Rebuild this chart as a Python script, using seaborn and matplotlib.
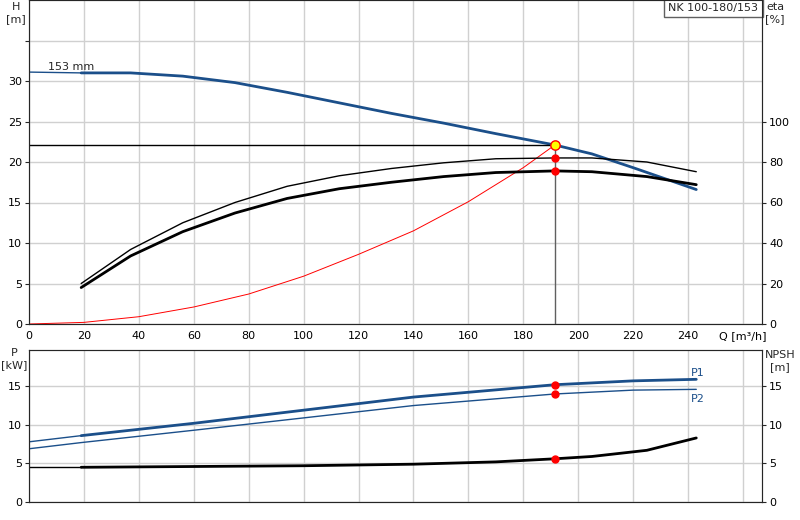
import matplotlib
matplotlib.use("Agg")
import matplotlib.pyplot as plt
import seaborn as sns
import numpy as np

sns.set_style("white")
plt.rcParams['font.family'] = ['DejaVu Sans']

q_head = [0, 19, 37, 56, 75, 94, 113, 132, 151, 170, 191.5, 205, 220, 243]
head = [31.1, 31.0, 31.0, 30.6, 29.8, 28.6, 27.3, 26.0, 24.8, 23.5, 22.1, 21.0, 19.3, 16.6]
q_eta = [19, 37, 56, 75, 94, 113, 132, 151, 170, 191.5, 205, 225, 243]
eta1 = [20, 36.8, 50, 60, 68, 73.2, 76.8, 79.6, 81.6, 82, 82, 80, 75.2]   # %
eta2 = [18, 33.6, 45.6, 54.8, 62, 66.8, 70, 72.8, 74.8, 75.6, 75.2, 72.8, 68.8]
q_sys = [0, 20, 40, 60, 80, 100, 120, 140, 160, 180, 191.5]
sys_h = [0, 0.2, 0.9, 2.1, 3.7, 5.9, 8.6, 11.5, 15.1, 19.3, 22.1]
q_p = [0, 19, 60, 100, 140, 191.5, 220, 243]
p1 = [7.8, 8.6, 10.2, 11.9, 13.6, 15.2, 15.7, 15.9]
p2 = [6.9, 7.7, 9.3, 10.9, 12.5, 14.0, 14.5, 14.6]
q_npsh = [0, 19, 60, 100, 140, 170, 191.5, 205, 225, 243]
npsh = [4.5, 4.5, 4.6, 4.7, 4.9, 5.2, 5.6, 5.9, 6.7, 8.3]
q_dp = 191.5
h_dp = 22.1

blue = "#1b4f8a"
fig = plt.figure(figsize=(8, 5.2), dpi=100)
ax = fig.add_axes([29/800, 1-324/520, (762-29)/800, 324/520])
ax2 = ax.twinx()
bx = fig.add_axes([29/800, 1-502/520, (762-29)/800, 152/520])
bx2 = bx.twinx()

xmax = (762-29)/2.746
for a in (ax, bx):
    a.set_xlim(0, xmax)
    a.set_xticks(np.arange(0, 261, 20))
    a.grid(True, color="#d0d0d0", lw=1)
    for s in a.spines.values():
        s.set_color("#606060")
ax.set_ylim(0, 40)
ax2.set_ylim(0, 160)
ax.set_yticks([0, 5, 10, 15, 20, 25, 30, 35])
ax.set_yticklabels(["0", "5", "10", "15", "20", "25", "30", ""])
ax2.set_yticks([0, 20, 40, 60, 80, 100])
ax.set_xticklabels([str(v) for v in range(0, 241, 20)] + ["Q [m³/h]"])
bx.set_xticklabels([])
bx.set_ylim(0, 19.7)
bx2.set_ylim(0, 19.7)
bx.set_yticks([0, 5, 10, 15])
bx2.set_yticks([0, 5, 10, 15])
for a in (ax, ax2, bx, bx2):
    a.tick_params(labelsize=8, length=3, pad=2, labelcolor="black")

sns.lineplot(x=q_head[1:], y=head[1:], ax=ax, color=blue, lw=2)
sns.lineplot(x=q_head[:2], y=head[:2], ax=ax, color=blue, lw=1)
sns.lineplot(x=q_eta, y=eta1, ax=ax2, color="black", lw=1)
sns.lineplot(x=q_eta, y=eta2, ax=ax2, color="black", lw=2)
sns.lineplot(x=q_sys, y=sys_h, ax=ax, color="red", lw=0.7)
ax.plot([0, q_dp], [h_dp, h_dp], color="black", lw=1)
ax.plot([q_dp, q_dp], [0, h_dp], color="#606060", lw=1)
ax2.scatter([q_dp, q_dp], [eta1[9], eta2[9]], color="red", s=25, zorder=5)
ax.scatter([q_dp], [h_dp], color="yellow", edgecolor="red", s=45, zorder=6)
ax.text(7, 31.4, "153 mm", fontsize=8)
ax.text(0.995, 0.99, "NK 100-180/153", transform=ax.transAxes, ha="right", va="top",
        fontsize=8, bbox=dict(facecolor="white", edgecolor="#606060", pad=3))

sns.lineplot(x=q_p[1:], y=p1[1:], ax=bx, color=blue, lw=2)
sns.lineplot(x=q_p[:2], y=p1[:2], ax=bx, color=blue, lw=1)
sns.lineplot(x=q_p, y=p2, ax=bx, color=blue, lw=1)
sns.lineplot(x=q_npsh[1:], y=npsh[1:], ax=bx2, color="black", lw=2)
sns.lineplot(x=q_npsh[:2], y=npsh[:2], ax=bx2, color="black", lw=1)
bx.scatter([q_dp, q_dp], [p1[5], p2[5]], color="red", s=25, zorder=5)
bx2.scatter([q_dp], [npsh[6]], color="red", s=25, zorder=5)
bx.text(241, 16.3, "P1", color=blue, fontsize=8)
bx.text(241, 12.9, "P2", color=blue, fontsize=8)

fig.text(16/800, 1-2/520, "H\n[m]", ha="center", va="top", fontsize=8)
fig.text(775/800, 1-2/520, "eta\n[%]", ha="center", va="top", fontsize=8)
fig.text(14/800, 1-348/520, "P\n[kW]", ha="center", va="top", fontsize=8)
fig.text(780/800, 1-350/520, "NPSH\n[m]", ha="center", va="top", fontsize=8)

fig.savefig("out.png", dpi=100)
